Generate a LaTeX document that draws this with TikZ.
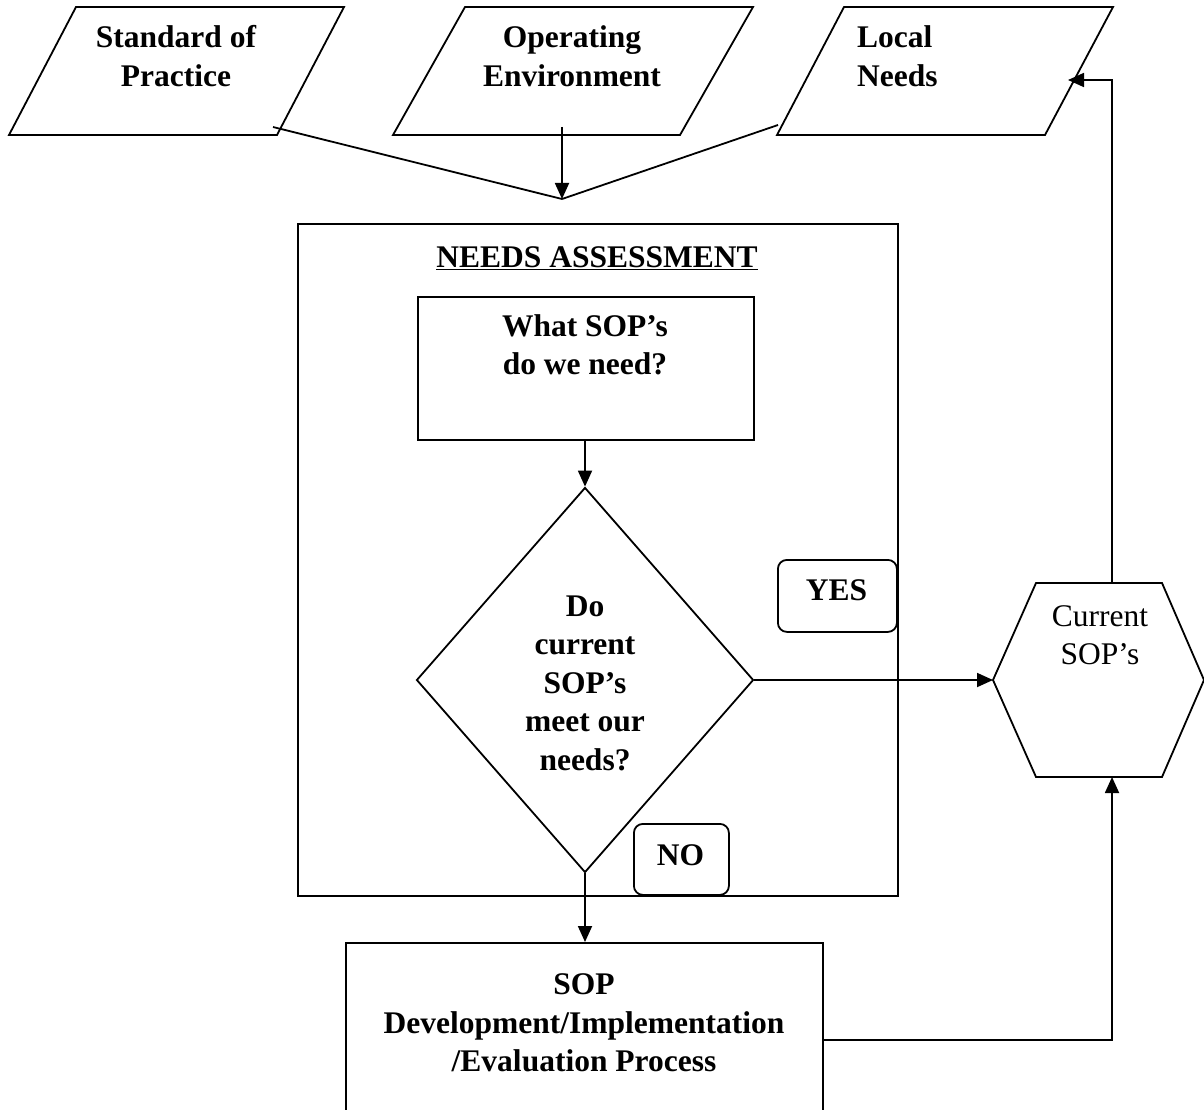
\documentclass[tikz,border=0pt]{standalone}
\usepackage{fontspec}
\setmainfont{Liberation Serif}
\usetikzlibrary{arrows.meta,shapes.geometric}
\begin{document}
\begin{tikzpicture}[x=1pt,y=-1pt,
  outline/.style={draw,line width=1.8pt,line join=miter},
  box/.style={draw,line width=1.8pt,rectangle,inner sep=0pt},
  tag/.style={draw,line width=1.8pt,rectangle,rounded corners=9pt,inner sep=0pt},
  btxt/.style={align=center,inner sep=0pt,font=\fontsize{31.5}{38.5}\selectfont\bfseries},
  rtxt/.style={align=center,inner sep=0pt,font=\fontsize{31.5}{38.5}\selectfont},
  flow/.style={line width=1.8pt,-{Triangle[length=16pt,width=14pt]}},
  link/.style={line width=1.8pt}]

\useasboundingbox (0,0) rectangle (1204,1110);

% ---- input parallelograms ----
\draw[outline] (76,7) -- (344,7) -- (277,135) -- (9,135) -- cycle;
\node[btxt] (practice) at (176,56) {Standard of\\Practice};
\coordinate (practice-out) at (273,127);

\draw[outline] (465,7) -- (753,7) -- (680,135) -- (393,135) -- cycle;
\node[btxt] (environment) at (572,56) {Operating\\Environment};
\coordinate (environment-out) at (562,127);

\draw[outline] (844,7) -- (1113,7) -- (1045,135) -- (777,135) -- cycle;
\node[btxt,align=left,anchor=west] (local) at (857,56) {Local\\Needs};
\coordinate (local-out) at (778,125);
\coordinate (local-in) at (1068,80);

% the three inputs meet here
\coordinate (merge) at (562,199);
\draw[link] (practice-out) -- (merge);
\draw[link] (local-out) -- (merge);
\draw[flow] (environment-out) -- (merge);

% ---- needs assessment frame ----
\node[box,minimum width=600pt,minimum height=672pt,anchor=north west] (assess) at (297,223) {};
\node[btxt,anchor=base] (assess-title) at (597,267) {\underline{NEEDS ASSESSMENT}};

\node[box,minimum width=336pt,minimum height=143pt,anchor=north west] (need) at (417,296) {};
\node[btxt] (need-text) at (585,345) {What SOP’s\\do we need?};

\node[draw,line width=1.8pt,diamond,inner sep=0pt,minimum width=337pt,minimum height=385pt] (meet) at (585,680) {};
\node[btxt] (meet-text) at (585,683) {Do\\current\\SOP’s\\meet our\\needs?};

\node[tag,minimum width=119pt,minimum height=72pt,anchor=north west] (yes) at (777,559) {};
\node[btxt] (yes-text) at (836.5,590) {YES};
\node[tag,minimum width=95pt,minimum height=71pt,anchor=north west] (no) at (633,823) {};
\node[btxt] (no-text) at (680.5,855) {NO};

% ---- current SOPs hexagon ----
\draw[outline] (993,680) -- (1036,583) -- (1162,583) -- (1204,680) -- (1162,777) -- (1036,777) -- cycle;
\node[rtxt] (current) at (1100,635) {Current\\SOP’s};
\coordinate (hex-left) at (993,680);
\coordinate (hex-top) at (1112,583);
\coordinate (hex-bottom) at (1112,777);

% ---- development box ----
\node[box,minimum width=477pt,minimum height=168pt,anchor=north west] (develop) at (345,942) {};
\node[btxt] (develop-text) at (584,1023) {SOP\\Development/Implementation\\/Evaluation Process};

% ---- connectors ----
\draw[flow] (need.south -| meet.north) -- (meet.north);
\draw[flow] (meet.east) -- (hex-left);
\draw[flow] (meet.south) -- (meet.south |- develop.north);
\coordinate (back-up) at (1112,80);
\draw[flow] (hex-top) -- (back-up) -- (local-in);
\coordinate (back-turn) at (1112,1040);
\draw[flow] (develop.east |- back-turn) -- (back-turn) -- (hex-bottom);
\end{tikzpicture}
\end{document}
